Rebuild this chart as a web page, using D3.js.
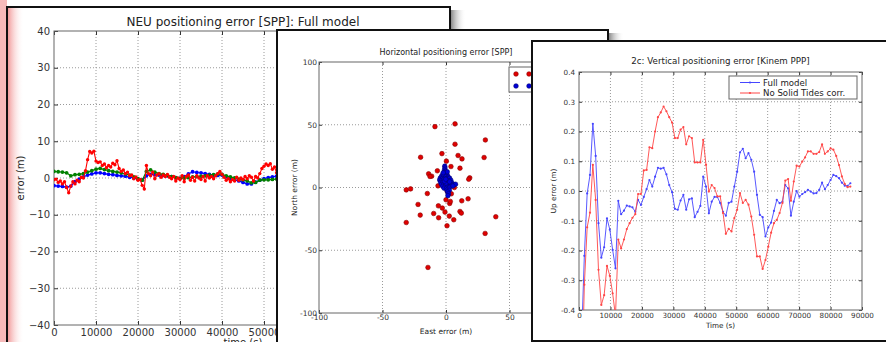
<!DOCTYPE html>
<html>
<head>
<meta charset="utf-8">
<script src="https://cdn.jsdelivr.net/npm/d3@7"></script>
<style>
  body { margin: 0; background: #fff; }
  svg { display: block; font-family: "DejaVu Sans", sans-serif; }
</style>
</head>
<body>
<div class="container"></div>
<script>
const WIDTH = 886
const HEIGHT = 342

// ---------- panel 1: NEU positioning error [SPP], full model (m) ----------
const neuStep = 1000          // north / east sampled every 1000 s
const northErr = [-2.1, -2.2, -2.3, -2.5, -2.2, -1.0, -0.3, 0.3, 0.8, 1.1,
  1.4, 1.4, 1.2, 1.0, 0.9, 0.7, 0.6, 0.5, 0.2, 0.0,
  -0.3, -0.6, 0.6, 1.0, 0.9, 0.8, 0.7, 0.6, 0.4, 0.1,
  -0.1, 0.4, 1.1, 1.7, 1.5, 1.4, 1.2, 1.0, 0.8, 0.7,
  0.8, 0.3, -0.2, -0.5, -0.8, -1.2, -1.6, -1.6, -1.1, -0.6,
  -0.2, 0.1, 0.3, 0.5, 0.6]
const eastErr = [1.8, 1.7, 1.6, 1.4, 0.6, 0.9, 1.0, 1.2, 1.6, 2.0,
  2.4, 2.6, 2.3, 2.0, 1.8, 1.6, 1.4, 1.1, 0.8, 0.3,
  -0.2, -0.6, 1.8, 2.2, 1.6, 1.2, 1.0, 0.7, 0.4, 0.1,
  -0.1, 0.0, 0.1, 0.3, 0.4, 0.5, 0.6, 0.8, 0.9, 1.1,
  1.0, 0.6, 0.3, 0.0, -0.3, -0.5, -0.8, -1.3, -1.2, -0.6,
  -0.5, -0.5, -0.4, -0.3, -0.2]
const upStep = 500            // up sampled every 500 s
const upErr = [-0.5, -0.3, -1.2, -0.8, -1.6, -1.0, -2.6, -4.0, -2.2, -1.0,
  -1.6, -0.6, -1.0, 0.2, 0.0, 2.0, 5.0, 7.2, 6.8, 7.3,
  4.6, 4.2, 4.4, 3.4, 3.8, 2.8, 3.4, 3.0, 4.0, 3.6,
  4.7, 2.6, 1.8, 2.2, 1.2, 1.6, 0.6, 0.8, -0.2, 0.3,
  -0.6, -0.4, -2.0, -3.0, 3.4, 1.2, 0.6, 1.6, -0.2, 0.8,
  1.2, 0.2, 0.8, 0.4, 1.0, 0.2, -0.2, 0.4, -0.8, 0.0,
  -0.4, 0.6, -1.0, 0.4, 0.8, -0.6, 0.2, -0.8, 0.6, 0.0,
  -0.4, 0.4, -0.8, 0.6, 0.0, 0.4, -0.2, 0.6, 1.2, 1.8,
  1.0, 0.2, -0.6, -0.2, -1.0, -0.4, -0.8, 0.2, -0.6, 0.0,
  -0.4, 0.4, -0.2, 0.6, 0.2, -0.8, 0.4, 0.0, 1.2, 2.6,
  3.2, 3.8, 3.4, 3.9, 2.4, 3.0, 1.4, 3.8, 0.4]
const neuXTicks = [0, 10000, 20000, 30000, 40000, 50000, 60000, 70000, 80000, 90000]
const neuYTicks = [-40, -30, -20, -10, 0, 10, 20, 30, 40]

// ---------- panel 2: horizontal positioning error [SPP] (m) ----------
const eastSpp = [-8.7, 7.1, 31, 7.1, -20, -3.2, 9.5, 12.6, 30, 0.3,
  3.9, 11, -13.7, -11.3, -12.6, -6.8, 18.7, 17.9, -31.3, -27.9,
  -14.7, 6.6, -6.3, 4.2, 0, 2.9, 3.4, 12.4, 17.4, -22,
  -6, -2.9, -9.7, -0.8, -20.3, -5.8, 2.6, 6.1, 11, 12.1,
  39.2, -31.3, 0.8, 30.8, -14.2, 2.8, -1.5, 1.0]
const northSpp = [48.5, 50.7, 37.9, 34.5, 24.1, 27, 25.5, 22.8, 23.9, 21,
  16.7, 15.4, 10.9, 9, 8.8, 13.3, 7.7, 6.6, -1.9, -1.1,
  -4.8, 0, 1.3, -5, -9.8, -12.7, -11.1, -10.6, -9, -13.5,
  -14.6, -16.4, -20.7, -19.6, -22, -24.1, -22.8, -25.7, -19.1, -20.4,
  -23.3, -27.9, -30.5, -36.6, -63.7, 3.0, 5.0, -3.0]
const eastFull = [-1.0, -0.8, -1.2, -0.5, -1.5, 0.2, -2.5, -0.8, 1.0, -3.5,
  -2.0, 0.0, 1.8, -4.5, -3.0, -1.0, 1.0, 2.8, -5.0, -3.8,
  -2.0, 0.5, 2.2, 3.8, -4.2, -2.6, -0.8, 1.4, 3.0, 4.6,
  -3.5, -1.8, 0.2, 2.0, 4.2, 6.2, 7.5, -2.6, -0.6, 1.2,
  3.2, 5.4, -1.5, 0.4, 2.4, 0.8, 2.6, 1.2, 2.0, 1.5,
  0.0, -1.2, 2.8, -0.2, 1.0, -2.2]
const northFull = [17, 15.5, 14, 13, 12, 11.5, 10.5, 10, 10, 9,
  8.5, 8.8, 8.2, 7.5, 7, 7.2, 7, 7.5, 6, 5.5,
  6, 5.8, 5.5, 5.8, 4, 4.2, 4.5, 4, 3.8, 3.5,
  2.5, 2.8, 2.5, 2.2, 2, 2.4, 2.6, 1, 1.2, 0.8,
  0.8, 1.2, -0.5, -0.6, -0.4, -2, -2.2, -3.5, -5, -6.5,
  3.5, 5, 4.6, 6.6, 12.5, 11.8]
const horTicks = [-100, -50, 0, 50, 100]

// ---------- panel 3: 2c vertical positioning error [Kinem PPP] (m) ----------
const vertStart = 800
const vertStep = 900
const upFullModel = [-0.5, -0.218, -0.008, 0.054, 0.226, 0.118, -0.108, -0.224, -0.189, -0.092, -0.13,
  -0.198, -0.26, -0.033, -0.078, -0.066, -0.049, -0.052, -0.055, -0.07,
  -0.03, -0.047, -0.02, 0.006, 0.037, 0.015, 0.048, 0.078, 0.075, 0.078,
  0.056, 0.02, -0.004, -0.06, -0.063, -0.032, -0.013, -0.063, -0.028, -0.025,
  -0.088, -0.07, -0.05, 0.048, 0.015, -0.075, -0.036, -0.02, -0.02, -0.04,
  -0.07, -0.083, -0.04, -0.036, 0.015, 0.065, 0.13, 0.142, 0.11, 0.127,
  0.105, 0.065, -0.013, -0.08, -0.088, -0.153, -0.122, -0.106, -0.067, -0.03,
  -0.041, -0.036, 0.02, 0.009, -0.083, -0.036, 0.0, -0.019, -0.01, -0.004,
  0.004, -0.002, -0.008, -0.007, 0.004, 0.028, 0.006, 0.02, 0.037, 0.054,
  0.05, 0.043, 0.028, 0.018, 0.017, 0.026]
const upNoTides = [-0.7, -0.315, -0.122, -0.073, 0.088, -0.03, -0.265, -0.383, -0.35, -0.252, -0.285,
  -0.344, -0.42, -0.163, -0.193, -0.163, -0.128, -0.108, -0.09, -0.078,
  -0.01, -0.01, 0.069, 0.071, 0.147, 0.144, 0.2, 0.248, 0.264, 0.284,
  0.268, 0.248, 0.23, 0.178, 0.178, 0.206, 0.215, 0.157, 0.184, 0.178,
  0.096, 0.096, 0.096, 0.172, 0.088, -0.002, 0.02, 0.01, -0.018, -0.018,
  -0.074, -0.144, -0.127, -0.136, -0.091, -0.063, -0.007, -0.04, -0.03, -0.046,
  -0.086, -0.147, -0.22, -0.22, -0.262, -0.232, -0.187, -0.14, -0.108, -0.097,
  -0.074, -0.04, 0.035, 0.04, -0.033, 0.032, 0.085, 0.082, 0.099, 0.113,
  0.133, 0.133, 0.125, 0.125, 0.131, 0.157, 0.125, 0.133, 0.143, 0.139,
  0.118, 0.087, 0.049, 0.024, 0.013, 0.015]
const vertXTicks = [0, 10000, 20000, 30000, 40000, 50000, 60000, 70000, 80000, 90000]
const vertYTicks = [-0.4, -0.3, -0.2, -0.1, 0.0, 0.1, 0.2, 0.3, 0.4]
const vertLegend = ['Full model', 'No Solid Tides corr.']

let uidCounter = 0
function uid(prefix) {
  return `${prefix}-${uidCounter++}`
}

const hyphen = f => d => f(d).replace('\u2212', '-')

const svg = d3.select('.container').append('svg')
  .attr('xmlns', 'http://www.w3.org/2000/svg')
  .attr('width', WIDTH)
  .attr('height', HEIGHT)
  .attr('viewBox', `0 0 ${WIDTH} ${HEIGHT}`)

const defs = svg.append('defs')

const shadow = defs.append('linearGradient').attr('id', 'shadow')
shadow.append('stop').attr('offset', 0).attr('stop-color', '#7a7a7a')
shadow.append('stop').attr('offset', 1).attr('stop-color', '#fff').attr('stop-opacity', 0)

const glow = defs.append('linearGradient').attr('id', 'glow')
glow.append('stop').attr('offset', 0).attr('stop-color', '#f29c9c')
glow.append('stop').attr('offset', 1).attr('stop-color', '#fff').attr('stop-opacity', 0)

// pink strip at the far left
svg.append('rect')
  .attr('width', 7).attr('height', HEIGHT)
  .attr('fill', '#f6baba')

// a screenshot window: drop shadow, white page, dark border
function windowFrame(x, y, w, h) {
  svg.append('rect')
    .attr('x', x + w).attr('y', y + 3)
    .attr('width', 16).attr('height', h)
    .attr('fill', 'url(#shadow)')
  svg.append('rect')
    .attr('x', x).attr('y', y)
    .attr('width', w).attr('height', h)
    .attr('fill', '#fff')
    .attr('stroke', '#111')
    .attr('stroke-width', 2)
}

// axes box with inner ticks, dotted grid, title and labels
function panel(o) {
  const x = d3.scaleLinear(o.xDomain, [o.left, o.right])
  const y = d3.scaleLinear(o.yDomain, [o.bottom, o.top])
  const w = o.right - o.left
  const h = o.bottom - o.top
  const g = svg.append('g')

  const clipId = uid('clip')
  defs.append('clipPath').attr('id', clipId)
    .append('rect')
    .attr('x', o.left).attr('y', o.top)
    .attr('width', w).attr('height', h)

  const inside = (d, dom) => d > dom[0] && d < dom[1]

  g.append('g')
    .attr('stroke', '#9a9a9a')
    .attr('stroke-dasharray', '1,2')
    .selectAll('line')
    .data(o.xTicks.filter(d => inside(d, o.xDomain)))
    .join('line')
    .attr('x1', d => x(d)).attr('x2', d => x(d))
    .attr('y1', o.top).attr('y2', o.bottom)

  g.append('g')
    .attr('stroke', '#9a9a9a')
    .attr('stroke-dasharray', '1,2')
    .selectAll('line')
    .data(o.yTicks.filter(d => inside(d, o.yDomain)))
    .join('line')
    .attr('y1', d => y(d)).attr('y2', d => y(d))
    .attr('x1', o.left).attr('x2', o.right)

  const style = a => a
    .attr('font-size', o.tick)
    .attr('font-family', null)
    .attr('color', '#333')
    .call(s => s.select('.domain').remove())

  g.append('g').attr('transform', `translate(0,${o.bottom})`)
    .call(d3.axisBottom(x).tickValues(o.xTicks).tickFormat(o.xFormat)
      .tickSizeInner(-o.tickLen).tickSizeOuter(0).tickPadding(o.xPad))
    .call(style)
  g.append('g').attr('transform', `translate(0,${o.top})`)
    .call(d3.axisTop(x).tickValues(o.xTicks).tickFormat(() => '')
      .tickSizeInner(-o.tickLen).tickSizeOuter(0))
    .call(style)
  g.append('g').attr('transform', `translate(${o.left},0)`)
    .call(d3.axisLeft(y).tickValues(o.yTicks).tickFormat(o.yFormat)
      .tickSizeInner(-o.tickLen).tickSizeOuter(0).tickPadding(o.yPad))
    .call(style)
  g.append('g').attr('transform', `translate(${o.right},0)`)
    .call(d3.axisRight(y).tickValues(o.yTicks).tickFormat(() => '')
      .tickSizeInner(-o.tickLen).tickSizeOuter(0))
    .call(style)

  g.append('rect')
    .attr('x', o.left).attr('y', o.top)
    .attr('width', w).attr('height', h)
    .attr('fill', 'none')
    .attr('stroke', '#666')

  g.append('text')
    .attr('x', (o.left + o.right) / 2).attr('y', o.titleY)
    .attr('text-anchor', 'middle')
    .attr('font-size', o.titleSize)
    .attr('fill', '#222')
    .text(o.title)

  g.append('text')
    .attr('x', (o.left + o.right) / 2).attr('y', o.xLabelY)
    .attr('text-anchor', 'middle')
    .attr('font-size', o.labelSize)
    .attr('fill', '#222')
    .text(o.xLabel)

  g.append('text')
    .attr('transform', `translate(${o.yLabelX},${(o.top + o.bottom) / 2}) rotate(-90)`)
    .attr('text-anchor', 'middle')
    .attr('font-size', o.labelSize)
    .attr('fill', '#222')
    .text(o.yLabel)

  const plot = svg.append('g').attr('clip-path', `url(#${clipId})`)
  return { x, y, plot }
}

function series(p, values, t0, step, color, r, width) {
  const t = i => t0 + i * step
  p.plot.append('path')
    .datum(values)
    .attr('fill', 'none')
    .attr('stroke', color)
    .attr('stroke-width', width)
    .attr('d', d3.line().x((d, i) => p.x(t(i))).y(d => p.y(d)))
  p.plot.append('g')
    .attr('fill', color)
    .selectAll('circle')
    .data(values)
    .join('circle')
    .attr('cx', (d, i) => p.x(t(i)))
    .attr('cy', d => p.y(d))
    .attr('r', r)
}

// ---------- window 1 ----------
windowFrame(7, 7, 443, 420)
svg.append('rect')
  .attr('x', 8).attr('y', 8)
  .attr('width', 16).attr('height', HEIGHT)
  .attr('fill', 'url(#glow)')

const p1 = panel({
  left: 54, right: 432, top: 31, bottom: 325,
  xDomain: [0, 90000], yDomain: [-40, 40],
  xTicks: neuXTicks, yTicks: neuYTicks,
  xFormat: d3.format('d'), yFormat: d3.format('d'),
  tick: 10, tickLen: 4, xPad: 4, yPad: 4,
  title: 'NEU positioning error [SPP]: Full model', titleY: 26, titleSize: 12,
  xLabel: 'time (s)', xLabelY: 346,
  yLabel: 'error (m)', yLabelX: 24, labelSize: 10
})
series(p1, northErr, 0, neuStep, '#0000ff', 1.9, 1.2)
series(p1, eastErr, 0, neuStep, '#008000', 1.9, 1.2)
series(p1, upErr, 0, upStep, '#ff0000', 1.7, 1.1)

// ---------- window 2 ----------
windowFrame(277, 30, 331, 420)

const p2 = panel({
  left: 319, right: 573, top: 62, bottom: 313,
  xDomain: [-100, 100], yDomain: [-100, 100],
  xTicks: horTicks, yTicks: horTicks,
  xFormat: hyphen(d3.format('d')), yFormat: hyphen(d3.format('d')),
  tick: 7.5, tickLen: 3, xPad: 2, yPad: 2,
  title: 'Horizontal positioning error [SPP]', titleY: 55, titleSize: 8,
  xLabel: 'East error (m)', xLabelY: 334,
  yLabel: 'North error (m)', yLabelX: 297, labelSize: 7.5
})

const scatter = (p, ex, no, fill, edge) => p.plot.append('g')
  .attr('fill', fill)
  .attr('stroke', edge)
  .attr('stroke-width', 0.6)
  .selectAll('circle')
  .data(d3.zip(ex, no))
  .join('circle')
  .attr('cx', d => p.x(d[0]))
  .attr('cy', d => p.y(d[1]))
  .attr('r', 2.3)

scatter(p2, eastSpp, northSpp, '#e00000', '#8a0000')
scatter(p2, eastFull, northFull, '#0000d8', '#000070')

const leg2 = svg.append('g')
leg2.append('rect')
  .attr('x', 509).attr('y', 67)
  .attr('width', 70).attr('height', 25)
  .attr('fill', '#fff').attr('stroke', '#666')
leg2.selectAll('g')
  .data([['#e00000', '#8a0000'], ['#0000d8', '#000070']])
  .join('g')
  .attr('transform', (d, i) => `translate(516,${74 + i * 12})`)
  .selectAll('circle')
  .data(d => [0, 13, 26].map(dx => ({ dx, c: d })))
  .join('circle')
  .attr('cx', d => d.dx)
  .attr('r', 2.3)
  .attr('fill', d => d.c[0])
  .attr('stroke', d => d.c[1])
  .attr('stroke-width', 0.6)

// ---------- window 3 ----------
windowFrame(532, 41, 380, 300)

const p3 = panel({
  left: 579, right: 862, top: 72, bottom: 310,
  xDomain: [0, 90000], yDomain: [-0.4, 0.4],
  xTicks: vertXTicks, yTicks: vertYTicks,
  xFormat: d3.format('d'), yFormat: hyphen(d3.format('.1f')),
  tick: 7.2, tickLen: 3, xPad: 3, yPad: 4,
  title: '2c: Vertical positioning error [Kinem PPP]', titleY: 64, titleSize: 8.7,
  xLabel: 'Time (s)', xLabelY: 328,
  yLabel: 'Up error (m)', yLabelX: 556, labelSize: 7.2
})

const vertColors = ['#4646ff', '#ff4646']
series(p3, upFullModel, vertStart, vertStep, vertColors[0], 1.1, 0.9)
series(p3, upNoTides, vertStart, vertStep, vertColors[1], 1.1, 0.9)

const leg3 = svg.append('g')
leg3.append('rect')
  .attr('x', 729).attr('y', 76)
  .attr('width', 128).attr('height', 23)
  .attr('fill', '#fff').attr('stroke', '#666')
const entry = leg3.selectAll('g')
  .data(vertLegend)
  .join('g')
  .attr('transform', (d, i) => `translate(740,${82.5 + i * 10.5})`)
entry.append('line')
  .attr('x2', 20)
  .attr('stroke', (d, i) => vertColors[i])
entry.append('circle')
  .attr('cx', 10).attr('r', 1.1)
  .attr('fill', (d, i) => vertColors[i])
entry.append('text')
  .attr('x', 23).attr('dy', '0.35em')
  .attr('font-size', 8.6)
  .attr('fill', '#222')
  .text(d => d)
</script>
</body>
</html>
